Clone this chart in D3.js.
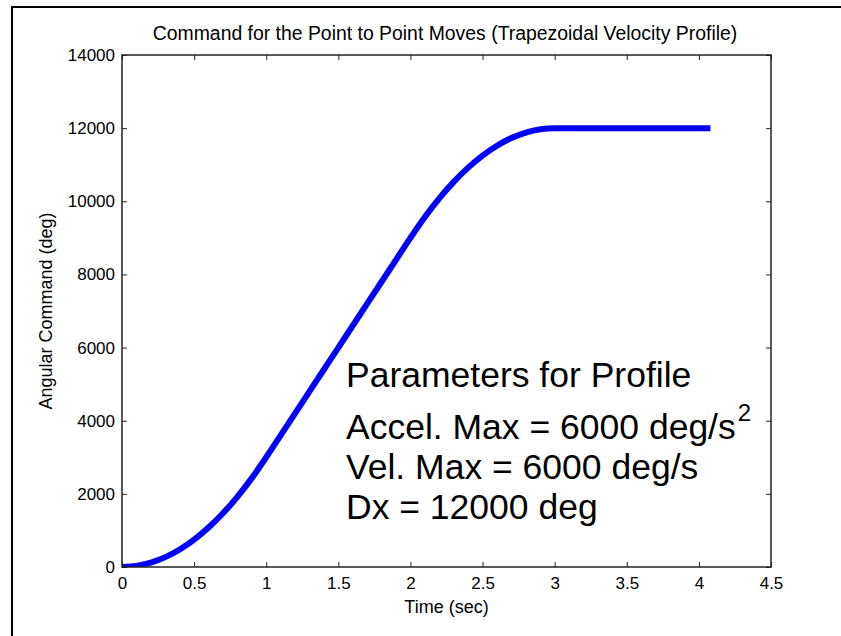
<!DOCTYPE html>
<html>
<head>
<meta charset="utf-8">
<script src="https://cdn.jsdelivr.net/npm/d3@7"></script>
<style>
  body { margin: 0; background: #fff; }
  svg text { font-family: "Liberation Sans", Arial, sans-serif; fill: #000; }
</style>
</head>
<body>
<svg width="841" height="636"></svg>
<script>
// time samples (sec) and the commanded angle (deg)
const timeSec = [0, 0.1, 0.2, 0.3, 0.4, 0.5, 0.6, 0.7, 0.8, 0.9, 1.0,
  1.1, 1.2, 1.3, 1.4, 1.5, 1.6, 1.7, 1.8, 1.9, 2.0,
  2.1, 2.2, 2.3, 2.4, 2.5, 2.6, 2.7, 2.8, 2.9, 3.0, 4.08];
const angleDeg = [0, 30, 120, 270, 480, 750, 1080, 1470, 1920, 2430, 3000,
  3600, 4200, 4800, 5400, 6000, 6600, 7200, 7800, 8400, 9000,
  9570, 10080, 10530, 10920, 11250, 11520, 11730, 11880, 11970, 12000, 12000];

const xTicks = [0, 0.5, 1, 1.5, 2, 2.5, 3, 3.5, 4, 4.5];
const yTicks = [0, 2000, 4000, 6000, 8000, 10000, 12000, 14000];

const titleText = "Command for the Point to Point Moves (Trapezoidal Velocity Profile)";
const xLabel = "Time (sec)";
const yLabel = "Angular Command (deg)";
const noteLines = ["Parameters for Profile", "Accel. Max = 6000 deg/s", "Vel. Max = 6000 deg/s", "Dx = 12000 deg"];

const svg = d3.select("svg");
const plot = { left: 122, top: 55, right: 771, bottom: 567 };

const x = d3.scaleLinear().domain([0, 4.5]).range([plot.left, plot.right]);
const y = d3.scaleLinear().domain([0, 14000]).range([plot.bottom, plot.top]);

// figure border (cropped: top and left only)
svg.append("path")
  .attr("d", "M12,636 L12,7 L841,7")
  .style("fill", "none")
  .style("stroke", "#000")
  .style("stroke-width", 2);

svg.append("clipPath").attr("id", "plotClip")
  .append("rect")
  .attr("x", plot.left).attr("y", plot.top)
  .attr("width", plot.right - plot.left).attr("height", plot.bottom - plot.top);

const line = d3.line()
  .x((d, i) => x(timeSec[i]))
  .y((d) => y(d))
  .curve(d3.curveMonotoneX);

svg.append("path")
  .datum(angleDeg)
  .attr("clip-path", "url(#plotClip)")
  .attr("d", line)
  .style("fill", "none")
  .style("stroke", "#0000ff")
  .style("stroke-width", 6);

function styleAxis(g) {
  g.select(".domain").remove();
  g.selectAll(".tick line").style("stroke", "#222").style("stroke-width", 1);
  g.selectAll(".tick text")
    .style("font-family", "Liberation Sans, Arial, sans-serif")
    .style("font-size", "17px")
    .style("fill", "#000");
}

svg.append("g")
  .attr("transform", `translate(0,${plot.bottom})`)
  .call(d3.axisBottom(x).tickValues(xTicks).tickFormat(d3.format("")).tickSizeInner(-5).tickSizeOuter(0).tickPadding(10))
  .call(styleAxis);
svg.append("g")
  .attr("transform", `translate(0,${plot.top})`)
  .call(d3.axisTop(x).tickValues(xTicks).tickFormat("").tickSizeInner(-5).tickSizeOuter(0))
  .call(styleAxis);
svg.append("g")
  .attr("transform", `translate(${plot.left},0)`)
  .call(d3.axisLeft(y).tickValues(yTicks).tickFormat(d3.format("d")).tickSizeInner(-5).tickSizeOuter(0).tickPadding(7))
  .call(styleAxis);
svg.append("g")
  .attr("transform", `translate(${plot.right},0)`)
  .call(d3.axisRight(y).tickValues(yTicks).tickFormat("").tickSizeInner(-5).tickSizeOuter(0))
  .call(styleAxis);

// axes box
svg.append("rect")
  .attr("x", plot.left).attr("y", plot.top)
  .attr("width", plot.right - plot.left).attr("height", plot.bottom - plot.top)
  .style("fill", "none")
  .style("stroke", "#222")
  .style("stroke-width", 1.5);

svg.append("text")
  .attr("x", 445)
  .attr("y", 40)
  .attr("text-anchor", "middle")
  .style("font-size", "19.4px")
  .text(titleText);

svg.append("text")
  .attr("x", (plot.left + plot.right) / 2)
  .attr("y", 613)
  .attr("text-anchor", "middle")
  .style("font-size", "18px")
  .text(xLabel);

svg.append("text")
  .attr("transform", `translate(52,${(plot.top + plot.bottom) / 2}) rotate(-90)`)
  .attr("text-anchor", "middle")
  .style("font-size", "18px")
  .text(yLabel);

// parameter note
const noteBase = [387, 439, 479, 519];
const note = svg.append("g");
noteLines.forEach((s, i) => {
  const t = note.append("text")
    .attr("x", 346)
    .attr("y", noteBase[i])
    .style("font-size", "35.5px")
    .text(s);
  if (i === 1) {
    t.append("tspan").attr("dx", 2).attr("dy", -18).style("font-size", "24px").text("2");
  }
});
</script>
</body>
</html>
